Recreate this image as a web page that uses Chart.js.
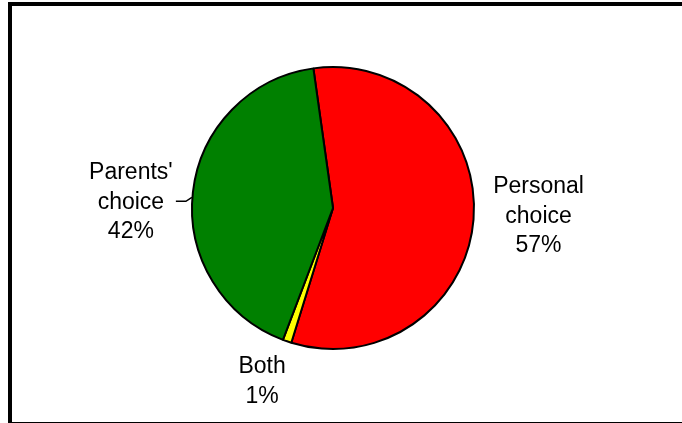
<!DOCTYPE html>
<html>
<head>
<meta charset="utf-8">
<script src="https://cdn.jsdelivr.net/npm/chart.js@4/dist/chart.umd.min.js"></script>
<style>
  body { margin: 0; background: #fff; overflow: hidden; }
  #cadre { position: absolute; left: 8px; top: 2px; width: 690px; height: 424px; border: 4px solid #000; box-sizing: border-box; }
  #pieChart { position: absolute; left: 0; top: 0; }
</style>
</head>
<body>
<div id="cadre"></div>
<canvas id="pieChart" width="682" height="423"></canvas>
<script>
// Les données du graphique
let categories = ['Personal choice', 'Both', "Parents' choice"];
let values = [57, 1, 42];
let colors = ['#FF0000', '#FFFF00', '#008000'];

// Décalage de chaque étiquette par rapport au bord de sa part (style, pas donnée)
let labelOffsets = [[65, -26], [-25, 32], [-62, -13]];

// Étiquettes autour du camembert + petit trait pour "Parents' choice"
let pieLabels = {
  id: 'pieLabels',
  afterDraw(chart) {
    let ctx = chart.ctx;
    let arcs = chart.getDatasetMeta(0).data;
    ctx.save();
    ctx.font = '23px "Liberation Sans", Arial, sans-serif';
    ctx.fillStyle = '#000';
    ctx.textAlign = 'center';
    ctx.textBaseline = 'alphabetic';
    arcs.forEach((arc, i) => {
      let p = arc.getProps(['x', 'y', 'startAngle', 'endAngle', 'outerRadius'], true);
      let mid = (p.startAngle + p.endAngle) / 2;
      let ax = p.x + Math.cos(mid) * p.outerRadius;
      let ay = p.y + Math.sin(mid) * p.outerRadius;
      let lines = categories[i].split(' ');
      lines.push(values[i] + '%');
      let x = ax + labelOffsets[i][0];
      let y = ay + labelOffsets[i][1];
      lines.forEach((t, k) => ctx.fillText(t, x, y + k * 29.5));
      if (i === 2) {
        ctx.strokeStyle = '#000';
        ctx.lineWidth = 1.5;
        ctx.beginPath();
        ctx.moveTo(ax - 17, ay + 9);
        ctx.lineTo(ax - 7, ay + 9);
        ctx.lineTo(ax - 1, ay + 5);
        ctx.stroke();
      }
    });
    ctx.restore();
  }
};

let ctx = document.getElementById('pieChart').getContext('2d');
let myChart = new Chart(ctx, {
  type: 'pie',
  data: {
    labels: categories,
    datasets: [{
      data: values,
      backgroundColor: colors,
      borderColor: '#000',
      borderWidth: 2
    }]
  },
  options: {
    responsive: false,
    animation: false,
    rotation: -8,
    layout: {
      padding: { top: 66, bottom: 73, left: 100, right: 116 }
    },
    plugins: {
      legend: { display: false },
      tooltip: { enabled: false }
    }
  },
  plugins: [pieLabels]
});
</script>
</body>
</html>
